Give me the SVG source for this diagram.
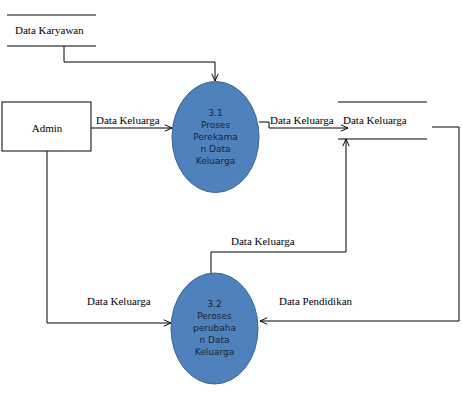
<svg xmlns="http://www.w3.org/2000/svg" width="462" height="406" viewBox="0 0 462 406">
<style>
.proc{fill:#4f81bd;stroke:#3b6596;stroke-width:1}
.line{fill:none;stroke:#000;stroke-width:1}
.conn{fill:none;stroke:#000;stroke-width:1;marker-end:url(#arr)}
</style>
<defs>
<marker id="arr" viewBox="0 0 10 10" refX="10" refY="5" markerWidth="8" markerHeight="8" markerUnits="userSpaceOnUse" orient="auto">
<polyline points="1,1 10,5 1,9" fill="none" stroke="#000" stroke-width="1.2"/>
</marker>
</defs>
<rect width="462" height="406" fill="#fff"/>

<g id="connectors">
<polyline class="conn" points="64,46 64,62 215,62 215,81"/>
<polyline class="conn" points="91,128 172,128"/>
<polyline class="conn" points="259,122 269,122 269,128 348,128"/>
<polyline class="conn" points="211,273 211,252 346,252 346,139"/>
<polyline class="conn" points="432,127 459,127 459,321 260,321"/>
<polyline class="conn" points="47,151 47,323 171,323"/>
<g font-family="'Liberation Serif', 'Times New Roman', 'DejaVu Serif', serif" font-size="11" fill="#000">
<text x="96" y="124">Data Keluarga</text>
<text x="270" y="124">Data Keluarga</text>
<text x="231" y="245">Data Keluarga</text>
<text x="279" y="305">Data Pendidikan</text>
<text x="87" y="305">Data Keluarga</text>
</g>
</g>

<g id="store-karyawan">
<line class="line" x1="7" y1="15" x2="96" y2="15"/>
<line class="line" x1="7" y1="46" x2="96" y2="46"/>
<text x="15" y="34" font-family="'Liberation Serif', 'Times New Roman', serif" font-size="11" fill="#000">Data Karyawan</text>
</g>

<g id="admin">
<rect x="2" y="102" width="89" height="49" fill="#fff" stroke="#000" stroke-width="1"/>
<text x="47" y="132" text-anchor="middle" font-family="'Liberation Serif', 'Times New Roman', serif" font-size="11" fill="#000">Admin</text>
</g>

<g id="proc-3-1" font-family="'DejaVu Sans', sans-serif" font-size="9" fill="#1a2533" text-anchor="middle">
<ellipse class="proc" cx="215.5" cy="137" rx="43.5" ry="55.5"/>
<text x="215.5" y="116">3.1</text>
<text x="215.5" y="128">Proses</text>
<text x="215.5" y="140">Perekama</text>
<text x="215.5" y="152">n Data</text>
<text x="215.5" y="164">Keluarga</text>
</g>

<g id="store-keluarga">
<line class="line" x1="338" y1="102" x2="427" y2="102"/>
<line class="line" x1="338" y1="139" x2="427" y2="139"/>
<text x="343" y="124" font-family="'Liberation Serif', 'Times New Roman', serif" font-size="11" fill="#000">Data Keluarga</text>
</g>

<g id="proc-3-2" font-family="'DejaVu Sans', sans-serif" font-size="9" fill="#1a2533" text-anchor="middle">
<ellipse class="proc" cx="214.5" cy="328.5" rx="43.5" ry="55.5"/>
<text x="214.5" y="307">3.2</text>
<text x="214.5" y="319">Peroses</text>
<text x="214.5" y="331">perubaha</text>
<text x="214.5" y="343">n Data</text>
<text x="214.5" y="355">Keluarga</text>
</g>
</svg>
